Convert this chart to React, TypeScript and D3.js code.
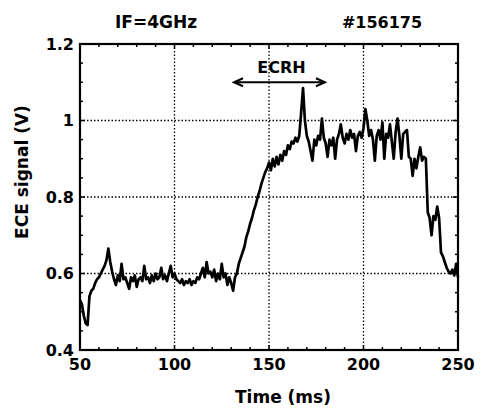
import React from "react";
import * as d3 from "d3";

const T0 = 50;
const DT = 1;
const signal: number[] = [
  0.53, 0.52, 0.49, 0.47, 0.465, 0.54, 0.555, 0.56, 0.575, 0.585,
  0.59, 0.6, 0.61, 0.62, 0.635, 0.665, 0.63, 0.605, 0.585, 0.57,
  0.595, 0.58, 0.625, 0.585, 0.59, 0.575, 0.56, 0.59, 0.58, 0.595,
  0.565, 0.585, 0.59, 0.58, 0.62, 0.585, 0.59, 0.575, 0.595, 0.58,
  0.6, 0.585, 0.59, 0.615, 0.585, 0.595, 0.58, 0.6, 0.62, 0.59,
  0.6, 0.585, 0.58, 0.575, 0.585, 0.57, 0.58, 0.575, 0.585, 0.57,
  0.58, 0.575, 0.59, 0.585, 0.6, 0.615, 0.59, 0.63, 0.6, 0.605,
  0.59, 0.61, 0.58, 0.6, 0.585, 0.625, 0.59, 0.6, 0.57, 0.59,
  0.575, 0.555, 0.59, 0.6, 0.625, 0.64, 0.655, 0.67, 0.695, 0.71,
  0.73, 0.745, 0.765, 0.78, 0.8, 0.815, 0.835, 0.85, 0.865, 0.875,
  0.89, 0.87, 0.9, 0.88, 0.905, 0.885, 0.91, 0.895, 0.92, 0.91,
  0.935, 0.925, 0.945, 0.94, 0.955, 0.945, 0.96, 1.02, 1.085, 1.0,
  0.96, 0.945, 0.92, 0.895, 0.95, 0.935, 0.96, 0.95, 1.005, 0.955,
  0.94, 0.905, 0.95, 0.935, 0.955, 0.9, 0.95, 0.965, 0.99, 0.955,
  0.94, 0.965, 0.95, 0.975, 0.955, 0.965, 0.92, 0.96, 0.97, 0.955,
  0.98, 1.03, 1.0, 0.96, 0.975, 0.95, 0.895, 0.96, 0.975, 0.95,
  0.995, 0.9, 0.965, 0.955, 0.99, 0.945, 0.9, 0.97, 1.005, 0.96,
  0.9, 0.965, 0.97, 0.975, 0.905, 0.9, 0.855, 0.9, 0.875, 0.905,
  0.93, 0.895, 0.905, 0.9, 0.76, 0.745, 0.7, 0.75, 0.74, 0.775,
  0.745, 0.655, 0.645, 0.63, 0.615, 0.605, 0.6, 0.61, 0.595, 0.625,
  0.59,
];
const xTicks = [50, 100, 150, 200, 250];
const yTicks = [0.4, 0.6, 0.8, 1.0, 1.2];
const yTickLabels = ["0.4", "0.6", "0.8", "1", "1.2"];
const xGrid = [100, 150, 200];
const yGrid = [0.6, 0.8, 1.0];
const ecrhRange = [131.5, 179.6];
const ecrhLevel = 1.1;
const titleLeft = "IF=4GHz";
const titleRight = "#156175";
const xLabel = "Time (ms)";
const yLabel = "ECE signal (V)";

const W = 483;
const H = 408;
const L = 80, R = 458, TOP = 44, BOT = 350;
const FONT = "'DejaVu Sans', Arial, sans-serif";

export default function App() {
  const x = d3.scaleLinear().domain([50, 250]).range([L, R]);
  const y = d3.scaleLinear().domain([0.4, 1.2]).range([BOT, TOP]);
  const pts: [number, number][] = signal.map((v, i) => [T0 + i * DT, v]);
  const line = d3.line<[number, number]>().x((d) => x(d[0])).y((d) => y(d[1]));
  const xMinor = d3.range(50, 251, 10);
  const yMinor = d3.range(0.4, 1.2001, 0.05);
  const ax1 = x(ecrhRange[0]);
  const ax2 = x(ecrhRange[1]);
  const ay = y(ecrhLevel);

  return (
    <svg width={W} height={H} style={{ position: "absolute", left: 0, top: 0, background: "#fff" }}>
      <rect x={0} y={0} width={W} height={H} fill="#fff" />
      {xGrid.map((t) => (
        <line key={"xg" + t} x1={x(t)} x2={x(t)} y1={TOP} y2={BOT} stroke="#000" strokeWidth={1.3} strokeDasharray="1.5,2" />
      ))}
      {yGrid.map((v) => (
        <line key={"yg" + v} x1={L} x2={R} y1={y(v)} y2={y(v)} stroke="#000" strokeWidth={1.3} strokeDasharray="1.5,2" />
      ))}
      {xMinor.map((t, i) => {
        const len = t % 50 === 0 ? 5 : 3;
        return (
          <g key={"xt" + i}>
            <line x1={x(t)} x2={x(t)} y1={BOT} y2={BOT - len} stroke="#000" strokeWidth={1.5} />
            <line x1={x(t)} x2={x(t)} y1={TOP} y2={TOP + len} stroke="#000" strokeWidth={1.5} />
          </g>
        );
      })}
      {yMinor.map((v, i) => {
        const len = i % 4 === 0 ? 5 : 3;
        return (
          <g key={"yt" + i}>
            <line x1={L} x2={L + len} y1={y(v)} y2={y(v)} stroke="#000" strokeWidth={1.5} />
            <line x1={R} x2={R - len} y1={y(v)} y2={y(v)} stroke="#000" strokeWidth={1.5} />
          </g>
        );
      })}
      <path d={line(pts) || ""} fill="none" stroke="#000" strokeWidth={2.7} strokeLinejoin="round" />
      <rect x={L} y={TOP} width={R - L} height={BOT - TOP} fill="none" stroke="#000" strokeWidth={2.2} />
      {xTicks.map((t) => (
        <text key={"xl" + t} x={x(t)} y={BOT + 20} textAnchor="middle" fontFamily={FONT} fontWeight="bold" fontSize={16}>
          {t}
        </text>
      ))}
      {yTicks.map((v, i) => (
        <text key={"yl" + v} x={L - 6} y={y(v)} dy="0.36em" textAnchor="end" fontFamily={FONT} fontWeight="bold" fontSize={16}>
          {yTickLabels[i]}
        </text>
      ))}
      <line x1={ax1} x2={ax2} y1={ay} y2={ay} stroke="#000" strokeWidth={2} />
      <path d={`M${ax1 + 9},${ay - 4} L${ax1},${ay} L${ax1 + 9},${ay + 4}`} fill="none" stroke="#000" strokeWidth={2} />
      <path d={`M${ax2 - 9},${ay - 4} L${ax2},${ay} L${ax2 - 9},${ay + 4}`} fill="none" stroke="#000" strokeWidth={2} />
      <text x={(ax1 + ax2) / 2 + 2} y={ay - 9} textAnchor="middle" fontFamily={FONT} fontWeight="bold" fontSize={16}>
        ECRH
      </text>
      <text x={156} y={28} textAnchor="middle" fontFamily={FONT} fontWeight="bold" fontSize={17}>
        {titleLeft}
      </text>
      <text x={382} y={28} textAnchor="middle" fontFamily={FONT} fontWeight="bold" fontSize={16}>
        {titleRight}
      </text>
      <text x={283} y={403} textAnchor="middle" fontFamily={FONT} fontWeight="bold" fontSize={17}>
        {xLabel}
      </text>
      <text transform={`translate(28,172) rotate(-90)`} textAnchor="middle" fontFamily={FONT} fontWeight="bold" fontSize={17}>
        {yLabel}
      </text>
    </svg>
  );
}
